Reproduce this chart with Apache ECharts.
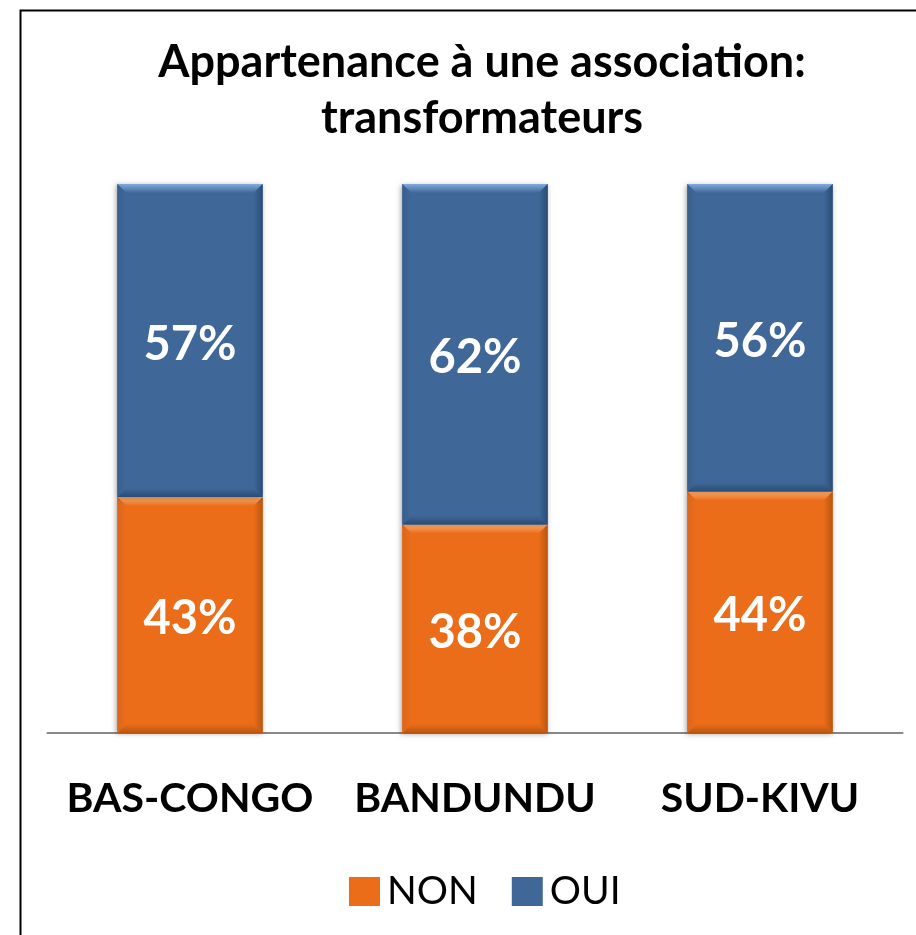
<!DOCTYPE html>
<html>
<head>
<meta charset="utf-8">
<script src="https://cdn.jsdelivr.net/npm/echarts@6/dist/echarts.min.js"></script>
<style>
  html, body { margin: 0; padding: 0; background: #fff; }
  #chart { width: 916px; height: 935px; }
</style>
</head>
<body>
<div id="chart"></div>
<script>
const regions = ['BAS-CONGO', 'BANDUNDU', 'SUD-KIVU']
const nonValues = [43, 38, 44]
const ouiValues = [57, 62, 56]
const seriesNames = ['NON', 'OUI']

const FONT = 'Lato'
const colors = {
  NON: { base: '#EB6D1A', light: '#FDB270', dark: '#BA560F', side: '#DC661A' },
  OUI: { base: '#3F6899', light: '#82AADD', dark: '#2A4C75', side: '#385F8C' }
}

// bars drawn with a small bevel, like the office chart
function bevelBar(pal) {
  return function (params, api) {
    const cat = api.value(0)
    const start = api.coord([cat, api.value(1)])
    const end = api.coord([cat, api.value(2)])
    const w = api.size([1, 0])[0] * 0.51
    const x0 = start[0] - w / 2
    const x1 = start[0] + w / 2
    const yb = start[1]
    const yt = end[1]
    const b = 9
    const label = api.value(2) - api.value(1)
    return {
      type: 'group',
      children: [
        { type: 'rect', shape: { x: x0, y: yt, width: w, height: yb - yt },
          style: { fill: pal.base, shadowBlur: 5, shadowOffsetX: -1, shadowOffsetY: 1, shadowColor: 'rgba(0,0,0,0.35)' } },
        { type: 'polygon', shape: { points: [[x0, yt], [x1, yt], [x1 - b, yt + b], [x0 + b, yt + b]] },
          style: { fill: new echarts.graphic.LinearGradient(0, 0, 0, 1, [{ offset: 0, color: pal.light }, { offset: 1, color: pal.base }]) } },
        { type: 'polygon', shape: { points: [[x0, yb], [x1, yb], [x1 - b, yb - b], [x0 + b, yb - b]] },
          style: { fill: new echarts.graphic.LinearGradient(0, 0, 0, 1, [{ offset: 0, color: pal.base }, { offset: 1, color: pal.dark }]) } },
        { type: 'polygon', shape: { points: [[x1, yt], [x1, yb], [x1 - b, yb - b], [x1 - b, yt + b]] },
          style: { fill: new echarts.graphic.LinearGradient(0, 0, 1, 0, [{ offset: 0, color: pal.base }, { offset: 1, color: pal.dark }]) } },
        { type: 'polygon', shape: { points: [[x0, yt], [x0, yb], [x0 + b, yb - b], [x0 + b, yt + b]] },
          style: { fill: new echarts.graphic.LinearGradient(0, 0, 1, 0, [{ offset: 0, color: pal.side }, { offset: 1, color: pal.base }]) } },
        { type: 'text', x: start[0], y: (yt + yb) / 2 + 4,
          style: { text: label + '%', fill: '#fff', font: 'bold 47px ' + FONT, align: 'center', verticalAlign: 'middle' } }
      ]
    }
  }
}

const nonData = regions.map((r, i) => [i, 0, nonValues[i]])
const ouiData = regions.map((r, i) => [i, nonValues[i], nonValues[i] + ouiValues[i]])

const chart = echarts.init(document.getElementById('chart'))

const option = {
  backgroundColor: '#fff',
  animation: false,
  title: {
    text: 'Appartenance à une association:\ntransformateurs',
    left: 477,
    top: 29,
    textAlign: 'center',
    textStyle: { fontFamily: FONT, fontWeight: 'bold', fontSize: 45, lineHeight: 56, color: '#000' }
  },
  legend: {
    data: seriesNames.map((n) => ({ name: n, icon: 'rect', itemStyle: { color: colors[n].base } })),
    left: 344,
    top: 867,
    itemWidth: 31,
    itemHeight: 29,
    itemGap: 34,
    textStyle: { fontFamily: FONT, fontSize: 39, color: '#000', padding: [0, 0, 0, 2] }
  },
  grid: { left: 47.5, right: 13.5, top: 184, bottom: 202 },
  xAxis: {
    type: 'category',
    data: regions,
    axisLine: { lineStyle: { color: '#888', width: 2 } },
    axisTick: { show: false },
    axisLabel: { interval: 0, fontFamily: FONT, fontWeight: 'bold', fontSize: 41, color: '#000', margin: 45 }
  },
  yAxis: {
    type: 'value',
    min: 0,
    max: 100,
    show: false,
    splitLine: { show: false }
  },
  graphic: [
    { type: 'rect', left: 18, top: 8, shape: { width: 1000, height: 1000 },
      style: { fill: 'none', stroke: '#000', lineWidth: 2 }, silent: true }
  ],
  series: [
    { name: 'NON', type: 'custom', renderItem: bevelBar(colors.NON), itemStyle: { color: colors.NON.base },
      encode: { x: 0, y: [1, 2] }, data: nonData },
    { name: 'OUI', type: 'custom', renderItem: bevelBar(colors.OUI), itemStyle: { color: colors.OUI.base },
      encode: { x: 0, y: [1, 2] }, data: ouiData }
  ]
}

chart.setOption(option)
</script>
</body>
</html>
